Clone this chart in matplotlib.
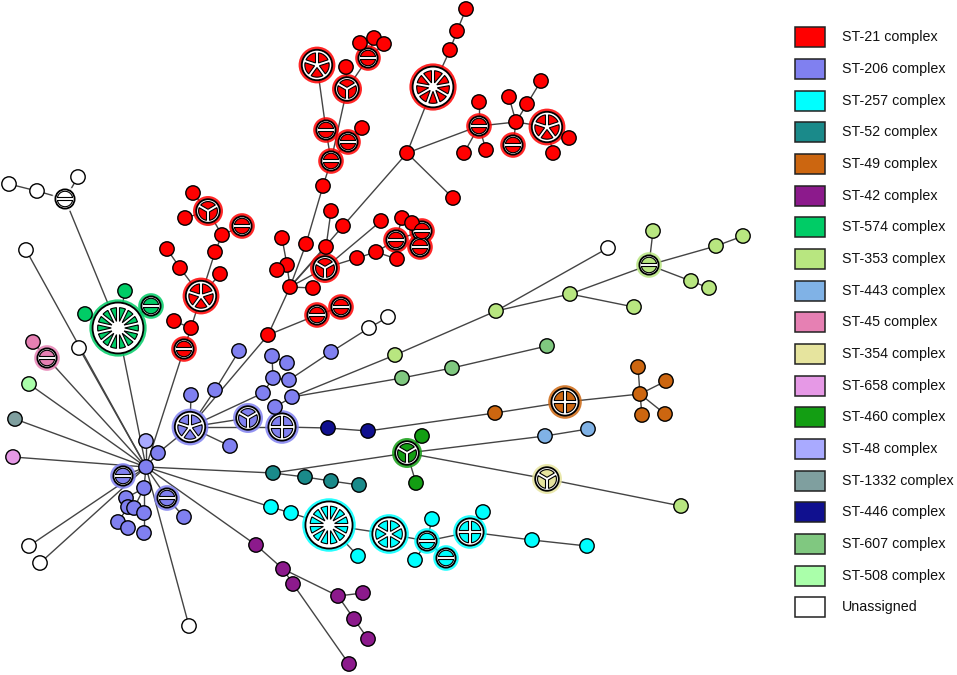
import numpy as np
import matplotlib
matplotlib.use("Agg")
import matplotlib.pyplot as plt
from matplotlib.patches import Circle, Polygon, Rectangle

# legend categories and their colours
complexes = ["ST-21 complex", "ST-206 complex", "ST-257 complex", "ST-52 complex",
             "ST-49 complex", "ST-42 complex", "ST-574 complex", "ST-353 complex",
             "ST-443 complex", "ST-45 complex", "ST-354 complex", "ST-658 complex",
             "ST-460 complex", "ST-48 complex", "ST-1332 complex", "ST-446 complex",
             "ST-607 complex", "ST-508 complex", "Unassigned"]
complex_colors = ["#ff0000", "#8080f0", "#00ffff", "#1a8a8a", "#cc6610", "#8c1a8c",
                  "#00cc66", "#b8e680", "#80b2e6", "#e680b3", "#e6e49e", "#e699e6",
                  "#139e13", "#a9aaff", "#7f9f9f", "#10108f", "#80c880", "#aaffaa",
                  "#ffffff"]

# nodes: (id, x, y, number of STs in node) -- layout in picture pixels
st21_nodes = [
    ("r_top1", 466, 9, 1), ("r_top2", 457, 31, 1), ("r_top3", 450, 50, 1),
    ("r_big", 433, 87, 9), ("B", 407, 153, 1), ("r_sd", 453, 198, 1),
    ("r_e1", 479, 126, 2), ("r_e2", 479, 102, 1), ("r_e3", 464, 153, 1),
    ("r_e4", 486, 150, 1), ("r_e5", 516, 122, 1), ("r_e6", 509, 97, 1),
    ("r_e7", 527, 104, 1), ("r_e8", 541, 81, 1), ("r_e9", 513, 145, 2),
    ("r_e10", 547, 127, 5), ("r_e11", 569, 138, 1), ("r_e12", 553, 153, 1),
    ("r_m1", 343, 226, 1), ("J", 290, 287, 1), ("r_j1", 287, 265, 1),
    ("r_j2", 282, 238, 1), ("r_j3", 277, 270, 1), ("r_j4", 306, 244, 1),
    ("r_j5", 323, 186, 1), ("r_j6", 331, 211, 1), ("r_j7", 326, 247, 1),
    ("r_j8", 325, 268, 3), ("r_j9", 357, 258, 1), ("r_j10", 376, 252, 1),
    ("r_j11", 397, 259, 1), ("r_j12", 396, 240, 2), ("r_j13", 381, 221, 1),
    ("r_j14", 402, 218, 1), ("r_j15", 412, 223, 1), ("r_j16", 422, 231, 2),
    ("r_j17", 420, 247, 2), ("r_j18", 313, 288, 1), ("r_t", 268, 335, 1),
    ("r_p1", 317, 315, 2), ("r_p2", 341, 307, 2),
    ("r_u1", 331, 161, 2), ("r_u2", 326, 130, 2), ("r_u3", 317, 65, 5),
    ("r_u4", 348, 142, 2), ("r_u5", 362, 128, 1), ("r_u6", 347, 89, 3),
    ("r_u7", 346, 67, 1), ("r_u8", 368, 58, 2), ("r_u9", 360, 43, 1),
    ("r_u10", 374, 38, 1), ("r_u11", 384, 44, 1),
    ("r_l1", 193, 193, 1), ("r_l2", 208, 211, 3), ("r_l3", 185, 218, 1),
    ("r_l4", 242, 226, 2), ("r_l5", 222, 235, 1), ("r_l6", 215, 252, 1),
    ("r_l7", 167, 249, 1), ("r_l8", 180, 268, 1), ("r_l9", 220, 274, 1),
    ("r_l10", 201, 296, 5), ("r_l11", 174, 321, 1), ("r_l12", 191, 328, 1),
    ("r_l13", 184, 349, 2),
]
st206_nodes = [
    ("hub", 146, 467, 1), ("b1", 158, 453, 1), ("bpie", 190, 427, 5),
    ("b2", 191, 395, 1), ("b3", 215, 390, 1), ("b4", 239, 351, 1),
    ("b5", 230, 446, 1), ("bY", 248, 418, 3), ("bplus", 282, 427, 4),
    ("b6", 272, 356, 1), ("b7", 287, 363, 1), ("b8", 273, 378, 1),
    ("b9", 289, 380, 1), ("b10", 263, 393, 1), ("b11", 292, 397, 1),
    ("b12", 275, 407, 1), ("b13", 331, 352, 1),
    ("bq1", 123, 476, 2), ("b14", 144, 488, 1), ("b15", 126, 498, 1),
    ("b16", 128, 507, 1), ("b17", 134, 508, 1), ("b18", 144, 513, 1),
    ("b19", 118, 522, 1), ("b20", 128, 528, 1), ("b21", 144, 533, 1),
    ("bq2", 167, 498, 2), ("b22", 184, 517, 1),
]
st257_nodes = [
    ("c1", 271, 507, 1), ("c2", 291, 513, 1), ("cbig", 329, 525, 12),
    ("c3", 358, 556, 1), ("c6", 389, 534, 6), ("cq1", 427, 541, 2),
    ("c4", 432, 519, 1), ("c5", 415, 560, 1), ("cq2", 446, 558, 2),
    ("cplus", 470, 532, 4), ("c7", 483, 512, 1), ("c8", 532, 540, 1),
    ("c9", 587, 546, 1),
]
st52_nodes = [("t1", 273, 473, 1), ("t2", 305, 477, 1), ("t3", 331, 481, 1),
              ("t4", 359, 485, 1)]
st49_nodes = [("o1", 495, 413, 1), ("oplus", 565, 402, 4), ("oj", 640, 394, 1),
              ("o2", 638, 367, 1), ("o3", 666, 381, 1), ("o4", 642, 415, 1),
              ("o5", 665, 414, 1)]
st42_nodes = [("pu1", 256, 545, 1), ("pu2", 283, 569, 1), ("pu3", 293, 584, 1),
              ("pu4", 338, 596, 1), ("pu5", 363, 593, 1), ("pu6", 354, 619, 1),
              ("pu7", 368, 639, 1), ("pu8", 349, 664, 1)]
st574_nodes = [("gbig", 118, 328, 14), ("g1", 125, 291, 1), ("g2", 85, 314, 1),
               ("gq", 151, 306, 2)]
st353_nodes = [("s1", 395, 355, 1), ("s2", 496, 311, 1), ("s3", 570, 294, 1),
               ("s4", 634, 307, 1), ("sq", 649, 265, 2), ("s5", 653, 231, 1),
               ("s6", 716, 246, 1), ("s7", 743, 236, 1), ("s8", 691, 281, 1),
               ("s9", 709, 288, 1), ("s10", 681, 506, 1)]
st443_nodes = [("l1", 545, 436, 1), ("l2", 588, 429, 1)]
st45_nodes = [("p1", 33, 342, 1), ("pq", 47, 358, 2)]
st354_nodes = [("yY", 547, 479, 3)]
st658_nodes = [("v1", 13, 457, 1)]
st460_nodes = [("gY", 407, 453, 3), ("ga", 422, 436, 1), ("gb", 416, 483, 1)]
st48_nodes = [("b48", 146, 441, 1)]
st1332_nodes = [("k1", 15, 419, 1)]
st446_nodes = [("n1", 328, 428, 1), ("n2", 368, 431, 1)]
st607_nodes = [("q1", 402, 378, 1), ("q2", 452, 368, 1), ("q3", 547, 346, 1)]
st508_nodes = [("m1", 29, 384, 1)]
unassigned_nodes = [("w1", 9, 184, 1), ("w2", 37, 191, 1), ("w3", 78, 177, 1),
                    ("wq", 65, 199, 2), ("w4", 26, 250, 1), ("w5", 79, 348, 1),
                    ("w6", 29, 546, 1), ("w7", 40, 563, 1), ("w8", 189, 626, 1),
                    ("w9", 369, 328, 1), ("w10", 388, 317, 1), ("w11", 608, 248, 1)]

node_groups = [st21_nodes, st206_nodes, st257_nodes, st52_nodes, st49_nodes,
               st42_nodes, st574_nodes, st353_nodes, st443_nodes, st45_nodes,
               st354_nodes, st658_nodes, st460_nodes, st48_nodes, st1332_nodes,
               st446_nodes, st607_nodes, st508_nodes, unassigned_nodes]

edges_st21 = [
    ("r_top1", "r_top2"), ("r_top2", "r_top3"), ("r_top3", "r_big"), ("r_big", "B"),
    ("B", "r_sd"), ("B", "r_e1"), ("r_e1", "r_e2"), ("r_e1", "r_e3"), ("r_e1", "r_e4"),
    ("r_e1", "r_e5"), ("r_e5", "r_e6"), ("r_e5", "r_e7"), ("r_e7", "r_e8"),
    ("r_e5", "r_e9"), ("r_e5", "r_e10"), ("r_e10", "r_e11"), ("r_e10", "r_e12"),
    ("B", "r_m1"), ("r_m1", "J"), ("J", "r_j1"), ("r_j1", "r_j2"), ("r_j1", "r_j3"),
    ("J", "r_j4"), ("r_j4", "r_j5"), ("r_j5", "r_u1"), ("J", "r_j7"), ("r_j7", "r_j6"),
    ("J", "r_j8"), ("r_j8", "r_j9"), ("r_j9", "r_j10"), ("r_j10", "r_j11"),
    ("r_j10", "r_j12"), ("r_j8", "r_j13"), ("r_j12", "r_j14"), ("r_j14", "r_j15"),
    ("r_j12", "r_j16"), ("r_j16", "r_j17"), ("J", "r_j18"), ("J", "r_t"),
    ("r_t", "r_p1"), ("r_p1", "r_p2"),
    ("r_u1", "r_u2"), ("r_u2", "r_u3"), ("r_u1", "r_u4"), ("r_u4", "r_u5"),
    ("r_u1", "r_u6"), ("r_u6", "r_u7"), ("r_u6", "r_u8"), ("r_u8", "r_u9"),
    ("r_u8", "r_u10"), ("r_u8", "r_u11"),
    ("r_l1", "r_l2"), ("r_l3", "r_l2"), ("r_l2", "r_l5"), ("r_l5", "r_l4"),
    ("r_l5", "r_l6"), ("r_l6", "r_l10"), ("r_l7", "r_l8"), ("r_l8", "r_l10"),
    ("r_l9", "r_l10"), ("r_l10", "r_l12"), ("r_l11", "r_l12"), ("r_l12", "r_l13"),
]
edges_hub = [
    ("r_l13", "hub"), ("hub", "b48"), ("hub", "b1"), ("b1", "bpie"), ("bpie", "b2"),
    ("bpie", "b3"), ("b3", "b4"), ("bpie", "r_t"), ("bpie", "b5"), ("bpie", "bY"),
    ("bpie", "bplus"), ("bpie", "b10"), ("b10", "b8"), ("b8", "b6"), ("b6", "b7"),
    ("b8", "b9"), ("b9", "b13"), ("b13", "w9"), ("w9", "w10"), ("bplus", "b12"),
    ("b12", "b11"), ("b11", "s1"), ("b11", "q1"),
    ("bplus", "n1"), ("n1", "n2"), ("n2", "o1"), ("o1", "oplus"), ("oplus", "oj"),
    ("oj", "o2"), ("oj", "o3"), ("oj", "o4"), ("oj", "o5"),
    ("hub", "bq1"), ("hub", "b14"), ("b14", "b15"), ("b15", "b16"), ("b14", "b17"),
    ("b14", "b18"), ("b18", "b21"), ("b16", "b19"), ("b19", "b20"), ("hub", "bq2"),
    ("bq2", "b22"),
    ("hub", "w4"), ("hub", "gbig"), ("gbig", "g1"), ("gbig", "g2"), ("gbig", "gq"),
    ("gbig", "wq"), ("wq", "w2"), ("w2", "w1"), ("wq", "w3"), ("hub", "pq"),
    ("pq", "p1"), ("hub", "w5"), ("hub", "m1"), ("hub", "k1"), ("hub", "v1"),
    ("hub", "w6"), ("hub", "w7"), ("hub", "w8"),
]
edges_right = [
    ("hub", "t1"), ("t1", "t2"), ("t2", "t3"), ("t3", "t4"), ("t1", "gY"),
    ("gY", "ga"), ("gY", "gb"), ("gY", "l1"), ("l1", "l2"), ("gY", "yY"), ("yY", "s10"),
    ("hub", "c1"), ("c1", "c2"), ("c2", "cbig"), ("cbig", "c3"), ("cbig", "c6"),
    ("c6", "cq1"), ("cq1", "c4"), ("cq1", "c5"), ("cq1", "cq2"), ("cq1", "cplus"),
    ("cplus", "c7"), ("cplus", "c8"), ("c8", "c9"),
    ("hub", "pu1"), ("pu1", "pu2"), ("pu2", "pu4"), ("pu4", "pu5"), ("pu4", "pu6"),
    ("pu6", "pu7"), ("pu2", "pu3"), ("pu3", "pu8"),
    ("s1", "s2"), ("s2", "w11"), ("s2", "s3"), ("s3", "s4"), ("s3", "sq"),
    ("sq", "s5"), ("sq", "s6"), ("s6", "s7"), ("sq", "s8"), ("s8", "s9"),
    ("q1", "q2"), ("q2", "q3"),
]


def node_radius(n):
    return 7.2 if n == 1 else 6.8 * np.sqrt(n)


def draw_node(ax, x, y, n, color):
    if n == 1:
        ax.add_patch(Circle((x, y), 7.2, fc=color, ec="black", lw=1.0, zorder=5))
        return
    R = node_radius(n)
    ax.add_patch(Circle((x, y), R + 3.2, fc=color, ec="none", alpha=0.85, zorder=3))
    ax.add_patch(Circle((x, y), R, fc="white", ec="black", lw=1.3, zorder=4))
    r_in = 0.8 * R
    h = 1.5
    start = {2: 0.0, 3: 30.0}.get(n, 90.0)
    step = 2 * np.pi / n
    da = np.arcsin(h / r_in)
    for k in range(n):
        a = np.deg2rad(start) + k * step
        b = a + step
        t = np.linspace(a + da, b - da, 40)
        px = list(x + r_in * np.cos(t))
        py = list(y - r_in * np.sin(t))
        d = h / np.sin(step / 2)
        mid = (a + b) / 2
        px.append(x + d * np.cos(mid))
        py.append(y - d * np.sin(mid))
        ax.add_patch(Polygon(np.column_stack([px, py]), closed=True, fc=color,
                             ec="black", lw=0.8, zorder=5))


fig = plt.figure(figsize=(9.57, 6.75), dpi=100)
ax = fig.add_axes([0, 0, 1, 1])
ax.set_xlim(0, 957)
ax.set_ylim(675, 0)
ax.axis("off")

pos = {}
for group, color in zip(node_groups, complex_colors):
    for nid, x, y, n in group:
        pos[nid] = (x, y, n, color)

for a, b in edges_st21 + edges_hub + edges_right:
    xa, ya = pos[a][:2]
    xb, yb = pos[b][:2]
    ax.plot([xa, xb], [ya, yb], color="#444444", lw=1.0, zorder=1,
            solid_capstyle="butt")

for nid, (x, y, n, color) in pos.items():
    draw_node(ax, x, y, n, color)

# legend
for i, (label, color) in enumerate(zip(complexes, complex_colors)):
    yc = 37.3 + i * 31.67
    ax.add_patch(Rectangle((795, yc - 10), 30, 20, fc=color, ec="#222222", lw=1.1,
                           zorder=5))
    ax.text(841.5, yc, label, va="center", ha="left", fontsize=10.3,
            family="Liberation Sans", color="#111111")

fig.savefig("out.png", dpi=100)
